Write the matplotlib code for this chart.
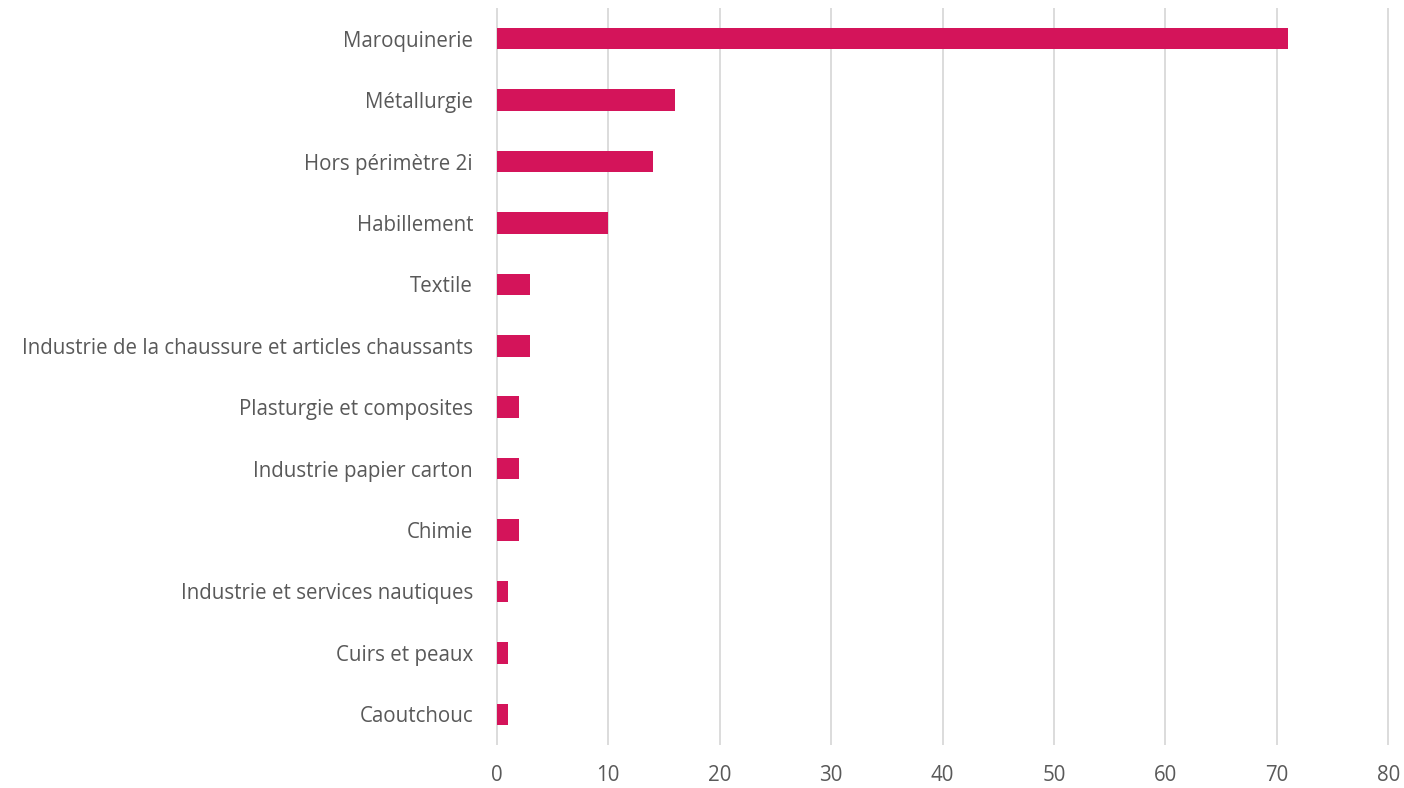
import matplotlib
matplotlib.use("Agg")
import matplotlib.pyplot as plt

categories = [
    "Maroquinerie",
    "Métallurgie",
    "Hors périmètre 2i",
    "Habillement",
    "Textile",
    "Industrie de la chaussure et articles chaussants",
    "Plasturgie et composites",
    "Industrie papier carton",
    "Chimie",
    "Industrie et services nautiques",
    "Cuirs et peaux",
    "Caoutchouc",
]
values = [71, 16, 14, 10, 3, 3, 2, 2, 2, 1, 1, 1]
xticks = [0, 10, 20, 30, 40, 50, 60, 70, 80]

plt.rcParams['font.family'] = ['Open Sans', 'DejaVu Sans']

fig = plt.figure(figsize=(14.04, 7.88), dpi=100)
ax = fig.add_axes([496 / 1404, 1 - 745 / 788, (1389 - 496) / 1404, (745 - 8) / 788])

pos = list(range(len(categories)))[::-1]
ax.barh(pos, values, height=0.35, color="#D4145A", zorder=3)

ax.set_xlim(-0.06, 80.06)
ax.set_ylim(-0.5, len(categories) - 0.5)
ax.set_xticks(xticks)
ax.set_yticks(pos)
ax.set_yticklabels(categories)
ax.grid(axis="x", color="#D9D9D9", linewidth=1.3, zorder=0)
for s in ax.spines.values():
    s.set_visible(False)
ax.tick_params(axis="both", length=0, labelsize=14.8, colors="#595959")
ax.tick_params(axis="x", pad=14.5)
ax.tick_params(axis="y", pad=16.5)

fig.savefig("out.png", dpi=100)
